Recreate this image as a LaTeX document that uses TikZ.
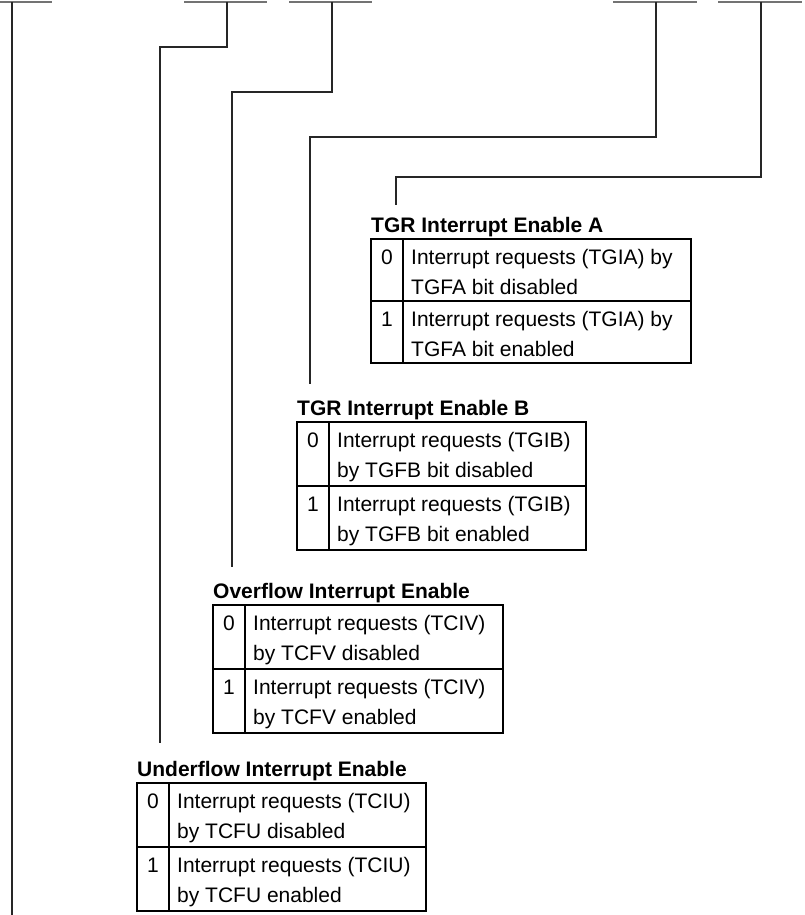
\documentclass[tikz,border=0pt]{standalone}
\usepackage{fontspec}
\setmainfont{Liberation Sans}
\newcommand\rowh{64}
\newcommand\bittable[9]{%
  % #1 name, #2 left, #3 top, #4 width, #5 title, #6..#9 text lines
  \node[ttl] (#1-title) at (#2,#3-7) {#5};
  \node[cell, minimum width=#4pt, minimum height=\rowh pt] (#1-r0) at (#2,#3) {};
  \node[cell, minimum width=#4pt, minimum height=\rowh pt] (#1-r1) at (#1-r0.south west) {};
  \draw[tbl] ([xshift=32pt]#1-r0.north west) -- ([xshift=32pt]#1-r1.south west);
  \node[bitv] (#1-b0) at ([xshift=16pt,yshift=-25pt]#1-r0.north west) {0};
  \node[bitv] (#1-b1) at ([xshift=16pt,yshift=-25pt]#1-r1.north west) {1};
  \node[lbl] (#1-t0a) at ([xshift=40pt,yshift=-25pt]#1-r0.north west) {#6};
  \node[lbl] (#1-t0b) at ([xshift=40pt,yshift=-55pt]#1-r0.north west) {#7};
  \node[lbl] (#1-t1a) at ([xshift=40pt,yshift=-25pt]#1-r1.north west) {#8};
  \node[lbl] (#1-t1b) at ([xshift=40pt,yshift=-55pt]#1-r1.north west) {#9};
}
\begin{document}
\begin{tikzpicture}[x=1pt,y=-1pt,
  lbl/.style={inner sep=0pt, anchor=base west, font=\fontsize{21}{30}\selectfont},
  ttl/.style={inner sep=0pt, anchor=base west, font=\fontsize{21}{30}\selectfont\bfseries},
  bitv/.style={inner sep=0pt, anchor=base, font=\fontsize{21}{30}\selectfont},
  cell/.style={draw=black, line width=1.2pt, anchor=north west, inner sep=0pt, outer sep=0pt},
  tbl/.style={draw=black, line width=1.2pt},
  wire/.style={draw=black!85, line width=1.2pt},
  bar/.style={draw=black!55, line width=1.2pt}]
\useasboundingbox (0,0) rectangle (805,915);

% top bars
\draw[bar] (0,2) -- (52,2);
\draw[bar] (184,2) -- (267,2);
\draw[bar] (289,2) -- (372,2);
\draw[bar] (613,2) -- (697,2);
\draw[bar] (718,2) -- (802,2);

% tables
\renewcommand\rowh{62}
\bittable{ta}{371}{239}{320}{TGR Interrupt Enable A}{Interrupt requests (TGIA) by}{TGFA bit disabled}{Interrupt requests (TGIA) by}{TGFA bit enabled}
\renewcommand\rowh{64}
\bittable{tb}{297}{422}{289}{TGR Interrupt Enable B}{Interrupt requests (TGIB)}{by TGFB bit disabled}{Interrupt requests (TGIB)}{by TGFB bit enabled}
\bittable{ov}{213}{605}{290}{Overflow Interrupt Enable}{Interrupt requests (TCIV)}{by TCFV disabled}{Interrupt requests (TCIV)}{by TCFV enabled}
\bittable{uf}{137}{783}{289}{Underflow Interrupt Enable}{Interrupt requests (TCIU)}{by TCFU disabled}{Interrupt requests (TCIU)}{by TCFU enabled}

% connector endpoints
\coordinate (s1) at (12,2);
\coordinate (e1) at (12,915);
\coordinate (s2) at (227,2);
\coordinate (e2) at (160,743);
\coordinate (s3) at (332,2);
\coordinate (e3) at (232,567);
\coordinate (s4) at (656,2);
\coordinate (e4) at (310,384);
\coordinate (s5) at (761,2);
\coordinate (e5) at (396,205);

\draw[wire] (s1) -- (e1);
\draw[wire] (s2) -- ++(0,45) -| (e2);
\draw[wire] (s3) -- ++(0,90) -| (e3);
\draw[wire] (s4) -- ++(0,135) -| (e4);
\draw[wire] (s5) -- ++(0,175) -| (e5);
\end{tikzpicture}
\end{document}
